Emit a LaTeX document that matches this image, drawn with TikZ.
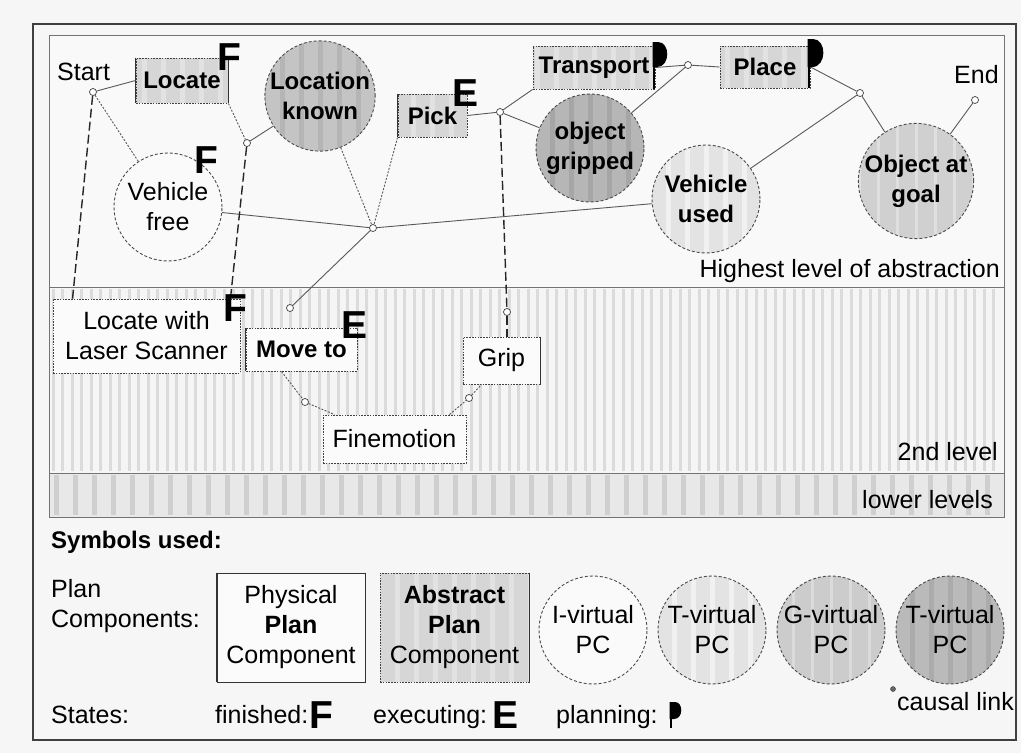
\documentclass[tikz,border=0pt]{standalone}
\usepackage{fontspec}
\setmainfont{Liberation Sans}
% solid vertical edge of a box node
\newcommand\solidside[2]{\draw[black!80, line width=1.2pt] (#1.north #2) -- (#1.south #2);}
% planning flag: stem x, top y, stem length, head height
\newcommand\pflag[4]{%
  \draw[black, line width=2.6pt] (#1,#2) -- (#1,#2+#3);
  \fill[black] (#1-1.3,#2) -- (#1+4,#2)
    .. controls (#1+4+0.5*#4,#2) and (#1+4+0.5*#4,#2+#4) .. (#1+3,#2+#4)
    -- (#1-1.3,#2+#4) -- cycle;}
\begin{document}
\begin{tikzpicture}[x=1pt, y=-1pt,
  every node/.style={font=\fontsize{25}{30}\selectfont, inner sep=0pt},
  bf/.style={font=\fontsize{24}{30}\selectfont\bfseries},
  stl/.style={font=\fontsize{39}{39}\selectfont\bfseries},
  stripes/.style 2 args={path picture={
    \foreach \k in {-7,...,7}{
      \draw[solid, #1, line width=#2]
        ([xshift=\k*19pt]path picture bounding box.north) --
        ([xshift=\k*19pt]path picture bounding box.south);}}},
  pbox/.style={rectangle, draw=black!75, line width=0.9pt,
    dash pattern=on 1.6pt off 1.2pt, fill=gray!3, align=center},
  abox/.style={pbox, fill=gray!32, stripes={white,opacity=.3}{5pt}},
  vpc/.style={circle, draw=black!70, line width=0.9pt,
    dash pattern=on 3pt off 2pt, minimum size=108pt, align=center},
  lk/.style={circle, draw=black!75, fill=white, line width=0.7pt, minimum size=7pt},
  cl/.style={draw=black!65, line width=0.9pt},
  cld/.style={cl, dash pattern=on 2pt off 1.5pt},
  vl/.style={draw=black!85, line width=1.4pt, dash pattern=on 9pt off 4pt}]

\useasboundingbox (0,0) rectangle (1021,753);
\fill[gray!7] (0,0) rectangle (1021,753);

% abstraction levels
\fill[gray!5] (49,35) rectangle (1004,287);
\draw[black!55, line width=0.8pt] (49,35) rectangle (1004,287);
\fill[gray!8] (49,287) rectangle (1004,473);
\foreach \x in {53,62.5,...,1000} \draw[gray!28, line width=3pt] (\x,289) -- (\x,471);
\draw[black!55, line width=0.8pt] (49,287) rectangle (1004,473);
\fill[gray!18] (49,473) rectangle (1004,517);
\foreach \x in {56,75,...,1000} \draw[gray!38, line width=5pt] (\x,475) -- (\x,515);
\draw[black!55, line width=0.8pt] (49,473) rectangle (1004,517);
\draw[black!75, line width=1.3pt] (33,24) rectangle (1016,740);

\node[anchor=base east] (hl) at (1000,277) {Highest level of abstraction};
\node[anchor=base east] (l2) at (998,460) {2nd level};
\node[anchor=base east] (ll) at (993,508) {lower levels};

% highest level
\node[anchor=base west] (start) at (57,80) {Start};
\node[anchor=base west] (end) at (954,83) {End};
\node[abox, bf, minimum width=92pt, minimum height=45pt] (loc) at (182,80.5) {Locate};
\node[abox, bf, minimum width=69pt, minimum height=43pt] (pick) at (432.5,115.5) {Pick};
\node[abox, bf, minimum width=122pt, minimum height=43pt] (tr) at (594,67.5) {Transport};
\node[abox, bf, minimum width=90pt, minimum height=42pt] (pl) at (765,67) {Place};
\solidside{loc}{west} \solidside{loc}{east}
\solidside{pick}{west}

\node[vpc, fill=gray!4] (vf) at (168,207) {Vehicle\\free};
\node[vpc, bf, fill=gray!46, stripes={gray!58}{5pt}] (lkn) at (320,96) {Location\\known};
\node[vpc, bf, fill=gray!57, stripes={gray!70}{5pt}] (og) at (590,148) {object\\gripped};
\node[vpc, bf, fill=gray!22, stripes={white,opacity=.5}{5pt}] (vu) at (706,199) {Vehicle\\used};
\node[vpc, bf, fill=gray!37, stripes={gray!25}{3pt}] (goal) at (916,181) {Object at\\goal};

\node[lk] (s0) at (93,92) {};
\node[lk] (c1) at (247,143) {};
\node[lk] (jn) at (373,228) {};
\node[lk] (c2) at (500,112) {};
\node[lk] (c3) at (688,65) {};
\node[lk] (c4) at (860,93) {};
\node[lk] (e0) at (975,100) {};

% second level
\node[pbox, minimum width=187pt, minimum height=74pt] (lwls) at (146.5,336) {Locate with\\Laser Scanner};
\node[pbox, bf, minimum width=111pt, minimum height=43pt] (mv) at (301.5,349.5) {Move to};
\node[pbox, minimum width=77pt, minimum height=47pt] (grip) at (501.5,360.5) {Grip};
\node[pbox, minimum width=143pt, minimum height=48pt] (fm) at (394.5,439) {Finemotion};
\solidside{mv}{west}
\solidside{grip}{east}
\node[lk] (m1) at (290,308) {};
\node[lk] (m2) at (507,312) {};
\node[lk] (f1) at (305,402) {};
\node[lk] (f2) at (469,398) {};

% causal links
\draw[cl] (s0) -- (loc.west);
\draw[cld] (s0) -- (vf);
\draw[cld] (loc.south east) -- (c1);
\draw[cl] (c1) -- (lkn);
\draw[cld] (lkn) -- (jn);
\draw[cld] (pick.south west) -- (jn);
\draw[cl] (vf) -- (jn);
\draw[cl] (jn) -- (vu);
\draw[cl] (jn) -- (m1);
\draw[cl] (pick.east) -- (c2);
\draw[cl] (c2) -- (tr.south west);
\draw[cl] (c2) -- (og);
\draw[cl] (tr.east) -- (c3);
\draw[cl] (og) -- (c3);
\draw[cl] (c3) -- (pl.west);
\draw[cl] (pl.east) -- (c4);
\draw[cl] (vu) -- (c4);
\draw[cl] (c4) -- (goal);
\draw[cl] (goal) -- (e0);

% refinement into the second level
\draw[vl] (s0) -- ([xshift=20pt]lwls.north west);
\draw[vl] (c1) -- ([xshift=-10pt]lwls.north east);
\draw[vl] (c2) -- (m2);
\draw[vl] (m2) -- (m2 |- grip.north);
\draw[cld] ([xshift=-20pt]mv.south) -- (f1);
\draw[cld] (f1) -- ([xshift=-60pt]fm.north);
\draw[cld] ([xshift=55pt]fm.north) -- (f2);
\draw[cld] (f2) -- ([xshift=-20pt]grip.south);

% states
\pflag{654}{42}{47}{25}
\pflag{809}{39}{49}{28}
\node[stl] (fa) at (229,57) {F};
\node[stl] (fb) at (206,160) {F};
\node[stl] (ea) at (466,93) {E};
\node[stl] (fc) at (235,308) {F};
\node[stl] (eb) at (355,325) {E};

% legend
\node[anchor=base west, bf] (sym) at (51,548) {Symbols used:};
\node[anchor=base west] (pc1) at (51,597) {Plan};
\node[anchor=base west] (pc2) at (51,627) {Components:};
\node[pbox, solid, draw=black!80, fill=gray!3, minimum width=148pt, minimum height=109pt] (lgp) at (291,627.5) {Physical\\\textbf{Plan}\\Component};
\node[abox, minimum width=149pt, minimum height=109pt] (lga) at (454.5,627.5) {\textbf{Abstract}\\\textbf{Plan}\\Component};
\solidside{lgp}{west} \solidside{lgp}{east}
\solidside{lga}{east}
\node[vpc, fill=gray!4] (lgi) at (593,630) {I-virtual\\PC};
\node[vpc, fill=gray!22, stripes={white,opacity=.5}{5pt}] (lgt) at (712,630) {T-virtual\\PC};
\node[vpc, fill=gray!40, stripes={gray!28}{3pt}] (lgg) at (831,630) {G-virtual\\PC};
\node[vpc, fill=gray!54, stripes={gray!66}{5pt}] (lgd) at (950,630) {T-virtual\\PC};
\node[circle, draw=black!80, fill=black!60, minimum size=5pt] (lgc) at (893,689) {};
\node[anchor=base west] (cau) at (897,710) {causal link};

\node[anchor=base west] (states) at (51,723) {States:};
\node[anchor=base west] (fin) at (215,723) {finished:};
\node[anchor=base west, stl] (lf) at (309,728) {F};
\node[anchor=base west] (exe) at (373,723) {executing:};
\node[anchor=base west, stl] (le) at (492,728) {E};
\node[anchor=base west] (pln) at (556,723) {planning:};
\pflag{671}{702}{26}{17}
\end{tikzpicture}
\end{document}
